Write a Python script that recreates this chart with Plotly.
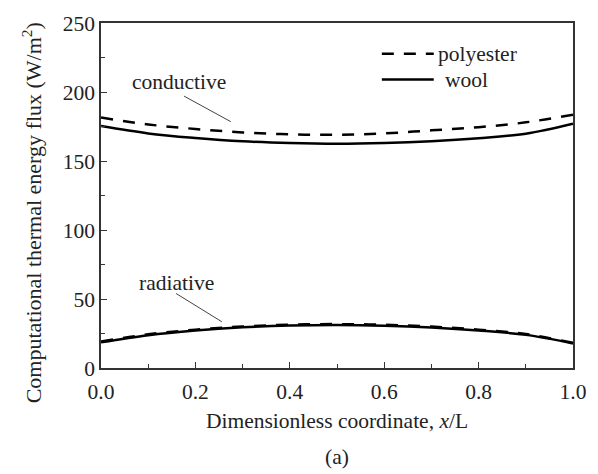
import plotly.graph_objects as go

# Dimensionless coordinate x/L
x = [0.0, 0.1, 0.2, 0.3, 0.4, 0.5, 0.6, 0.7, 0.8, 0.9, 1.0]

# Conductive flux (W/m^2)
cond_polyester = [181.5, 176.5, 173.2, 170.7, 169.3, 169.0, 170.0, 172.2, 174.5, 178.0, 183.6]
cond_wool = [175.3, 170.0, 166.7, 164.3, 163.0, 162.5, 163.0, 164.3, 166.5, 169.8, 177.0]

# Radiative flux (W/m^2)
rad_polyester = [19.2, 24.4, 27.8, 30.1, 31.4, 31.8, 31.3, 30.0, 27.8, 24.6, 18.2]
rad_wool = [18.6, 23.8, 27.2, 29.5, 30.8, 31.2, 30.7, 29.4, 27.2, 24.0, 17.8]

FONT = "Liberation Serif"
FS = 21.5
TXT = dict(family=FONT, size=FS, color="#222")
DASH = "12px,10px"

fig = go.Figure()
for ys, dash in [(cond_polyester, DASH), (cond_wool, "solid"),
                 (rad_polyester, DASH), (rad_wool, "solid")]:
    fig.add_trace(go.Scatter(x=x, y=ys, mode="lines", line_shape="spline",
                             line=dict(color="black", width=2.5, dash=dash),
                             showlegend=False, hoverinfo="skip"))

axis_common = dict(
    showgrid=False, zeroline=False, showline=True, linecolor="#333",
    linewidth=1.5, mirror=True, ticks="inside", ticklen=6, tickwidth=1.2,
    tickcolor="#333", tickfont=TXT,
)

fig.update_xaxes(range=[0, 1], tickvals=[0, 0.2, 0.4, 0.6, 0.8, 1.0],
                 ticktext=["0.0", "0.2", "0.4", "0.6", "0.8", "1.0"],
                 ticklabelstandoff=3,
                 minor=dict(dtick=0.1, ticks="inside", ticklen=4, tickcolor="#333"),
                 title=dict(text="Dimensionless coordinate, <i>x</i>/L",
                            font=TXT, standoff=10),
                 **axis_common)
fig.update_yaxes(range=[0, 250], tickvals=[0, 50, 100, 150, 200, 250],
                 minor=dict(dtick=25, ticks="inside", ticklen=4, tickcolor="#333"),
                 **axis_common)

# Y-axis title, placed slightly below the axis centre
fig.add_annotation(x=-0.147, y=0.45, xref="paper", yref="paper",
                   text="Computational thermal energy flux (W/m<sup>2</sup>)",
                   textangle=-90, showarrow=False, xanchor="center", yanchor="middle",
                   font=dict(family=FONT, size=22, color="#222"))

# Curve labels with leader lines
fig.add_annotation(x=0.166, y=207, xref="x", yref="y", text="conductive",
                   showarrow=False, font=TXT)
fig.add_shape(type="line", xref="x", yref="y", x0=0.176, y0=197, x1=0.275, y1=178.5,
              line=dict(color="#444", width=1))
fig.add_annotation(x=0.159, y=61.5, xref="x", yref="y", text="radiative",
                   showarrow=False, font=TXT)
fig.add_shape(type="line", xref="x", yref="y", x0=0.159, y0=54, x1=0.256, y1=33.5,
              line=dict(color="#444", width=1))

# Legend drawn in data space
fig.add_shape(type="line", xref="x", yref="y", x0=0.595, y0=227.8, x1=0.705, y1=227.8,
              line=dict(color="black", width=2.5, dash=DASH))
fig.add_shape(type="line", xref="x", yref="y", x0=0.595, y0=209, x1=0.705, y1=209,
              line=dict(color="black", width=2.5))
fig.add_annotation(x=0.71, y=227.8, xref="x", yref="y", text="polyester", xanchor="left",
                   showarrow=False, font=TXT)
fig.add_annotation(x=0.725, y=209, xref="x", yref="y", text="wool", xanchor="left",
                   showarrow=False, font=TXT)

# Panel label
fig.add_annotation(x=0.5, y=-0.258, xref="paper", yref="paper", text="(a)",
                   showarrow=False, yanchor="middle", font=TXT)

fig.update_layout(width=598, height=474, plot_bgcolor="white", paper_bgcolor="white",
                  margin=dict(l=101, r=20, t=19, b=106))

fig.write_html("out.html")
